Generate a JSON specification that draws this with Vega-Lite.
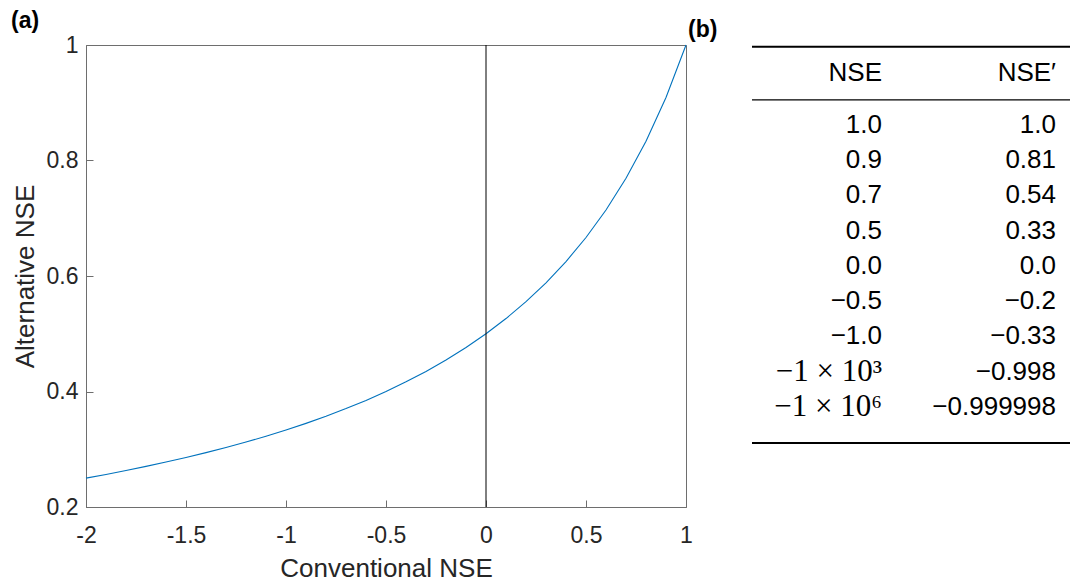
{
  "$schema": "https://vega.github.io/schema/vega-lite/v6.json",
  "padding": {"left": 10, "top": 9, "right": 0, "bottom": 0},
  "bounds": "flush",
  "spacing": 66,
  "config": {
    "font": "Liberation Sans",
    "view": {"stroke": "#6e6e6e", "strokeWidth": 1},
    "axis": {
      "grid": false,
      "domainColor": "#6e6e6e",
      "tickColor": "#6e6e6e",
      "tickSize": -7,
      "labelColor": "#262626",
      "titleColor": "#262626",
      "labelFont": "Liberation Sans",
      "titleFont": "Liberation Sans",
      "labelFontSize": 23,
      "titleFontSize": 26,
      "titleFontWeight": "normal",
      "labelFlush": false
    },
    "title": {"font": "Liberation Sans", "fontSize": 23, "fontWeight": "bold", "color": "#000000"}
  },
  "datasets": {
    "curve": [
      {"nse": -2.0, "alt": 0.25},
      {"nse": -1.9, "alt": 0.2564},
      {"nse": -1.8, "alt": 0.2632},
      {"nse": -1.7, "alt": 0.2703},
      {"nse": -1.6, "alt": 0.2778},
      {"nse": -1.5, "alt": 0.2857},
      {"nse": -1.4, "alt": 0.2941},
      {"nse": -1.3, "alt": 0.303},
      {"nse": -1.2, "alt": 0.3125},
      {"nse": -1.1, "alt": 0.3226},
      {"nse": -1.0, "alt": 0.3333},
      {"nse": -0.9, "alt": 0.3448},
      {"nse": -0.8, "alt": 0.3571},
      {"nse": -0.7, "alt": 0.3704},
      {"nse": -0.6, "alt": 0.3846},
      {"nse": -0.5, "alt": 0.4},
      {"nse": -0.4, "alt": 0.4167},
      {"nse": -0.3, "alt": 0.4348},
      {"nse": -0.2, "alt": 0.4545},
      {"nse": -0.1, "alt": 0.4762},
      {"nse": 0.0, "alt": 0.5},
      {"nse": 0.1, "alt": 0.5263},
      {"nse": 0.2, "alt": 0.5556},
      {"nse": 0.3, "alt": 0.5882},
      {"nse": 0.4, "alt": 0.625},
      {"nse": 0.5, "alt": 0.6667},
      {"nse": 0.6, "alt": 0.7143},
      {"nse": 0.7, "alt": 0.7692},
      {"nse": 0.8, "alt": 0.8333},
      {"nse": 0.9, "alt": 0.9091},
      {"nse": 1.0, "alt": 1.0}
    ],
    "table": [
      {"row": 0, "nse": "NSE", "nse2": "NSE\u2032"},
      {"row": 1, "nse": "1.0", "nse2": "1.0"},
      {"row": 2, "nse": "0.9", "nse2": "0.81"},
      {"row": 3, "nse": "0.7", "nse2": "0.54"},
      {"row": 4, "nse": "0.5", "nse2": "0.33"},
      {"row": 5, "nse": "0.0", "nse2": "0.0"},
      {"row": 6, "nse": "\u22120.5", "nse2": "\u22120.2"},
      {"row": 7, "nse": "\u22121.0", "nse2": "\u22120.33"},
      {"row": 8, "nse": "\u22121 \u00d7 10\u00b3", "nse2": "\u22120.998"},
      {"row": 9, "nse": "\u22121 \u00d7 10\u2076", "nse2": "\u22120.999998"}
    ]
  },
  "hconcat": [
    {
      "width": 600,
      "height": 462,
      "title": {"text": "(a)", "anchor": "start", "frame": "group", "dx": -75, "offset": 1},
      "layer": [
        {
          "data": {"name": "curve"},
          "mark": {"type": "line", "color": "#0072BD", "strokeWidth": 1.1},
          "encoding": {
            "x": {
              "field": "nse", "type": "quantitative",
              "scale": {"domain": [-2, 1], "nice": false, "zero": false},
              "axis": {
                "title": "Conventional NSE",
                "values": [-2, -1.5, -1, -0.5, 0, 0.5, 1],
                "format": "~g",
                "labelExpr": "replace(datum.label, '\u2212', '-')",
                "labelPadding": 24,
                "titlePadding": 8
              }
            },
            "y": {
              "field": "alt", "type": "quantitative",
              "scale": {"domain": [0.2, 1], "nice": false, "zero": false},
              "axis": {
                "title": "Alternative NSE",
                "values": [0.2, 0.4, 0.6, 0.8, 1],
                "format": "~g",
                "labelPadding": 15,
                "titlePadding": 8
              }
            }
          }
        },
        {
          "data": {"values": [{}]},
          "mark": {"type": "rule", "color": "#000000", "strokeWidth": 1},
          "encoding": {"x": {"datum": 0, "type": "quantitative"}}
        }
      ]
    },
    {
      "width": 318,
      "height": 462,
      "view": {"stroke": null},
      "title": {"text": "(b)", "anchor": "start", "frame": "group", "dx": -64, "dy": -2, "offset": 1},
      "layer": [
        {
          "data": {"name": "table"},
          "transform": [{"filter": "datum.row >= 1 && datum.row <= 7"}],
          "mark": {"type": "text", "align": "right", "baseline": "middle", "fontSize": 26, "font": "Liberation Sans", "color": "#000000"},
          "encoding": {
            "x": {"datum": 1, "type": "quantitative", "scale": {"domain": [0.2529, 2.0805], "nice": false, "zero": false}, "axis": null},
            "y": {"field": "row", "type": "quantitative", "scale": {"domain": [-1.2695, 11.837], "reverse": true, "nice": false, "zero": false}, "axis": null},
            "text": {"field": "nse"}
          }
        },
        {
          "data": {"name": "table"},
          "transform": [{"filter": "datum.row >= 8"}],
          "mark": {"type": "text", "align": "right", "baseline": "middle", "fontSize": 31, "font": "Liberation Serif", "color": "#000000"},
          "encoding": {
            "x": {"datum": 1, "type": "quantitative"},
            "y": {"field": "row", "type": "quantitative"},
            "text": {"field": "nse"}
          }
        },
        {
          "data": {"name": "table"},
          "transform": [{"filter": "datum.row >= 1"}],
          "mark": {"type": "text", "align": "right", "baseline": "middle", "fontSize": 26, "font": "Liberation Sans", "color": "#000000"},
          "encoding": {
            "x": {"datum": 2, "type": "quantitative"},
            "y": {"field": "row", "type": "quantitative"},
            "text": {"field": "nse2"}
          }
        },
        {
          "data": {"name": "table"},
          "transform": [{"filter": "datum.row == 0"}],
          "mark": {"type": "text", "align": "right", "baseline": "middle", "fontSize": 26, "font": "Liberation Sans", "color": "#000000", "yOffset": -17},
          "encoding": {
            "x": {"datum": 1, "type": "quantitative"},
            "y": {"field": "row", "type": "quantitative"},
            "text": {"field": "nse"}
          }
        },
        {
          "data": {"name": "table"},
          "transform": [{"filter": "datum.row == 0"}],
          "mark": {"type": "text", "align": "right", "baseline": "middle", "fontSize": 26, "font": "Liberation Sans", "color": "#000000", "yOffset": -17},
          "encoding": {
            "x": {"datum": 2, "type": "quantitative"},
            "y": {"field": "row", "type": "quantitative"},
            "text": {"field": "nse2"}
          }
        },
        {
          "data": {"values": [{}]},
          "mark": {"type": "rule", "color": "#000000", "strokeWidth": 2},
          "encoding": {"y": {"datum": -1.22, "type": "quantitative"}}
        },
        {
          "data": {"values": [{}]},
          "mark": {"type": "rule", "color": "#000000", "strokeWidth": 1.3},
          "encoding": {"y": {"datum": 0.29, "type": "quantitative"}}
        },
        {
          "data": {"values": [{}]},
          "mark": {"type": "rule", "color": "#000000", "strokeWidth": 2},
          "encoding": {"y": {"datum": 10.02, "type": "quantitative"}}
        }
      ]
    }
  ]
}
